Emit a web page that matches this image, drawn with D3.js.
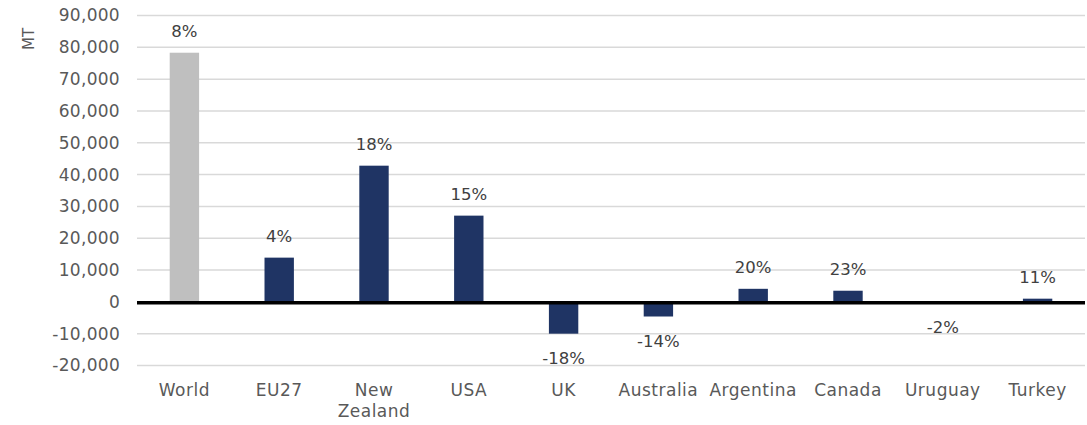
<!DOCTYPE html>
<html>
<head>
<meta charset="utf-8">
<script src="https://cdn.jsdelivr.net/npm/d3@7"></script>
<style>
  body { margin: 0; background: #fff; }
  text { font-family: "DejaVu Sans", sans-serif; }
</style>
</head>
<body>
<div class="container"></div>
<script>
var w = 1087;
var h = 425;

// data
var categories = ["World", "EU27", "New Zealand", "USA", "UK", "Australia", "Argentina", "Canada", "Uruguay", "Turkey"];
var values = [78300, 13900, 42800, 27100, -10000, -4600, 4100, 3500, -200, 1000];
var changeLabels = ["8%", "4%", "18%", "15%", "-18%", "-14%", "20%", "23%", "-2%", "11%"];
var yTicks = [-20000, -10000, 0, 10000, 20000, 30000, 40000, 50000, 60000, 70000, 80000, 90000];

var margin = { top: 15.5, right: 2, bottom: 59.5, left: 137 };

var svg = d3.select(".container")
  .append("svg")
  .attr("width", w)
  .attr("height", h);

var x = d3.scaleBand()
  .domain(categories)
  .range([margin.left, w - margin.right])
  .paddingInner(0.69)
  .paddingOuter(0.345);

var y = d3.scaleLinear()
  .domain([-20000, 90000])
  .range([h - margin.bottom, margin.top]);

var fmt = d3.format(",");

// gridlines
svg.append("g")
  .selectAll("line")
  .data(yTicks)
  .enter()
  .append("line")
  .attr("x1", margin.left)
  .attr("x2", w - margin.right)
  .attr("y1", d => y(d))
  .attr("y2", d => y(d))
  .attr("stroke", "#d9d9d9")
  .attr("stroke-width", 1.5);

// y axis labels
var yAxis = svg.append("g")
  .attr("transform", "translate(" + (margin.left - 17) + ",0)")
  .call(d3.axisLeft(y).tickValues(yTicks).tickFormat(d => fmt(d).replace("\u2212", "-")).tickSize(0).tickPadding(0));
yAxis.select(".domain").remove();
yAxis.selectAll("text")
  .attr("fill", "#595959")
  .style("font-size", "17px")
  .style("letter-spacing", "0.3px")
  .style("font-family", "DejaVu Sans, sans-serif");

// axis title
svg.append("text")
  .attr("transform", "translate(34,39) rotate(-90)")
  .attr("text-anchor", "middle")
  .attr("fill", "#595959")
  .style("font-size", "15px")
  .text("MT");

// bars
svg.append("g")
  .selectAll("rect")
  .data(values)
  .enter()
  .append("rect")
  .attr("x", (d, i) => x(categories[i]))
  .attr("width", x.bandwidth())
  .attr("y", d => y(Math.max(0, d)))
  .attr("height", d => Math.abs(y(d) - y(0)))
  .attr("fill", (d, i) => i === 0 ? "#bfbfbf" : "#1f3464");

// zero line
svg.append("line")
  .attr("x1", margin.left)
  .attr("x2", w - margin.right)
  .attr("y1", y(0) + 1)
  .attr("y2", y(0) + 1)
  .attr("stroke", "#000")
  .attr("stroke-width", 3.5);

// data labels
svg.append("g")
  .selectAll("text")
  .data(values)
  .enter()
  .append("text")
  .attr("x", (d, i) => x(categories[i]) + x.bandwidth() / 2)
  .attr("y", d => d >= 0 ? y(d) - 16 : y(d) + 30)
  .attr("text-anchor", "middle")
  .attr("fill", "#404040")
  .style("font-size", "16.5px")
  .text((d, i) => changeLabels[i]);

// category labels
var catLabels = svg.append("g")
  .selectAll("text")
  .data(categories)
  .enter()
  .append("text")
  .attr("x", d => x(d) + x.bandwidth() / 2)
  .attr("y", 396)
  .attr("text-anchor", "middle")
  .attr("fill", "#595959")
  .style("letter-spacing", "0.5px")
  .style("font-size", "17px");

catLabels.each(function(d) {
  var parts = d === "New Zealand" ? ["New", "Zealand"] : [d];
  var t = d3.select(this);
  parts.forEach((p, j) => {
    t.append("tspan")
      .attr("x", x(d) + x.bandwidth() / 2)
      .attr("dy", j === 0 ? 0 : 21)
      .text(p);
  });
});
</script>
</body>
</html>
